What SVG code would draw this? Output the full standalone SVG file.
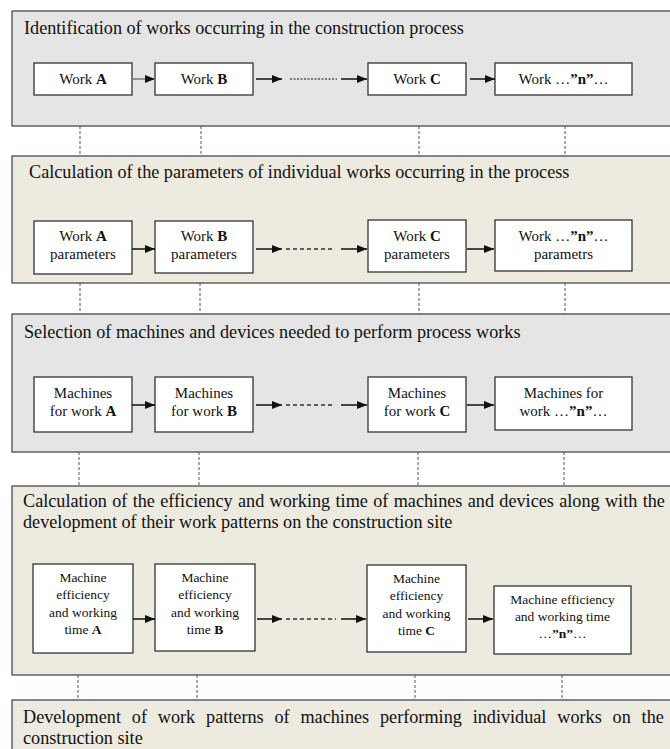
<svg xmlns="http://www.w3.org/2000/svg" width="670" height="749" viewBox="0 0 670 749">
<style>
text{font-family:"Liberation Serif","Times New Roman",serif;fill:#111}
.t{font-family:"Liberation Serif","Times New Roman",serif;font-size:18.2px}
.b{font-family:"Liberation Serif","Times New Roman",serif;font-size:15px;text-anchor:middle}
.s{font-family:"Liberation Serif","Times New Roman",serif;font-size:13.5px;text-anchor:middle}
.g{fill:#e5e5e5;stroke:#4a4a4a;stroke-width:1.3}
.e{fill:#edeae0;stroke:#4a4a4a;stroke-width:1.3}
.n{fill:#fff;stroke:#333;stroke-width:1.3}
.a{stroke:#111;stroke-width:1.5;fill:none;marker-end:url(#ah)}
.d{stroke:#333;stroke-width:1.3;fill:none;stroke-dasharray:4 3}
.dt{stroke:#555;stroke-width:1.3;fill:none;stroke-dasharray:2 1.5}
.v{stroke:#555;stroke-width:1;fill:none;stroke-dasharray:3 2}
tspan.k{font-weight:bold}
</style>
<defs>
<marker id="ah" viewBox="0 0 10 8" refX="10" refY="4" markerWidth="10" markerHeight="8" markerUnits="userSpaceOnUse" orient="auto">
<path d="M0,0 L10,4 L0,8 Z" fill="#111"/>
</marker>
</defs>

<g id="panel1">
<rect class="g" x="12" y="11" width="680" height="115"/>
<text class="t" x="24" y="34">Identification of works occurring in the construction process</text>
</g>
<g id="p1a"><rect class="n" x="34" y="63" width="98" height="32"/><text class="b" x="83" y="84">Work <tspan class="k">A</tspan></text></g>
<g id="p1b"><rect class="n" x="155" y="63" width="98" height="32"/><text class="b" x="204" y="84">Work <tspan class="k">B</tspan></text></g>
<g id="p1c"><rect class="n" x="368" y="63" width="98" height="32"/><text class="b" x="417" y="84">Work <tspan class="k">C</tspan></text></g>
<g id="p1n"><rect class="n" x="495" y="63" width="137" height="32"/><text class="b" x="563.5" y="84">Work …<tspan class="k">”n”</tspan>…</text></g>

<g id="panel2">
<rect class="e" x="12" y="156" width="680" height="127"/>
<text class="t" x="29" y="178">Calculation of the parameters of individual works occurring in the process</text>
</g>
<g id="p2a"><rect class="n" x="34" y="221" width="98" height="53"/><text class="b" x="83" y="241">Work <tspan class="k">A</tspan></text><text class="b" x="83" y="259">parameters</text></g>
<g id="p2b"><rect class="n" x="155" y="221" width="98" height="52"/><text class="b" x="204" y="241">Work <tspan class="k">B</tspan></text><text class="b" x="204" y="259">parameters</text></g>
<g id="p2c"><rect class="n" x="368" y="220" width="98" height="52"/><text class="b" x="417" y="241">Work <tspan class="k">C</tspan></text><text class="b" x="417" y="259">parameters</text></g>
<g id="p2n"><rect class="n" x="495" y="220" width="137" height="51"/><text class="b" x="563.5" y="241">Work …<tspan class="k">”n”</tspan>…</text><text class="b" x="563.5" y="259">parametrs</text></g>

<g id="panel3">
<rect class="g" x="12" y="314" width="680" height="138"/>
<text class="t" x="24" y="338">Selection of machines and devices needed to perform process works</text>
</g>
<g id="p3a"><rect class="n" x="34" y="377" width="98" height="55"/><text class="b" x="83" y="398">Machines</text><text class="b" x="83" y="416">for work <tspan class="k">A</tspan></text></g>
<g id="p3b"><rect class="n" x="155" y="377" width="98" height="55"/><text class="b" x="204" y="398">Machines</text><text class="b" x="204" y="416">for work <tspan class="k">B</tspan></text></g>
<g id="p3c"><rect class="n" x="368" y="377" width="98" height="55"/><text class="b" x="417" y="398">Machines</text><text class="b" x="417" y="416">for work <tspan class="k">C</tspan></text></g>
<g id="p3n"><rect class="n" x="495" y="377" width="137" height="53"/><text class="b" x="563.5" y="398">Machines for</text><text class="b" x="563.5" y="416">work …<tspan class="k">”n”</tspan>…</text></g>

<g id="panel4">
<rect class="e" x="12" y="486" width="680" height="189"/>
<text class="t" x="23" y="507" word-spacing="0.8">Calculation of the efficiency and working time of machines and devices along with the</text>
<text class="t" x="23" y="528">development of their work patterns on the construction site</text>
</g>
<g id="p4a"><rect class="n" x="33" y="564" width="100" height="89"/><text class="s" x="83" y="582">Machine</text><text class="s" x="83" y="599">efficiency</text><text class="s" x="83" y="617">and working</text><text class="s" x="83" y="634">time <tspan class="k">A</tspan></text></g>
<g id="p4b"><rect class="n" x="155" y="564" width="100" height="87"/><text class="s" x="205" y="582">Machine</text><text class="s" x="205" y="599">efficiency</text><text class="s" x="205" y="617">and working</text><text class="s" x="205" y="634">time <tspan class="k">B</tspan></text></g>
<g id="p4c"><rect class="n" x="367" y="565" width="99" height="87"/><text class="s" x="416.5" y="583">Machine</text><text class="s" x="416.5" y="600">efficiency</text><text class="s" x="416.5" y="618">and working</text><text class="s" x="416.5" y="635">time <tspan class="k">C</tspan></text></g>
<g id="p4n"><rect class="n" x="494" y="586" width="137" height="68"/><text class="s" x="562.5" y="604">Machine efficiency</text><text class="s" x="562.5" y="621">and working time</text><text class="s" x="562.5" y="638">…<tspan class="k">”n”</tspan>…</text></g>

<g id="panel5">
<rect class="e" x="12" y="700" width="680" height="70"/>
<text class="t" x="23" y="723" word-spacing="6.3">Development of work patterns of machines performing individual works on the</text>
<text class="t" x="23" y="744">construction site</text>
</g>

<g id="connectors">
<line class="a" x1="132" y1="79" x2="155" y2="79" style="stroke:#777"/>
<line class="a" x1="256" y1="79" x2="282" y2="79"/>
<line class="dt" x1="290" y1="79" x2="337" y2="79"/>
<line class="a" x1="341" y1="79" x2="367" y2="79"/>
<line class="a" x1="470" y1="79" x2="495" y2="79"/>

<line class="a" x1="132" y1="249" x2="155" y2="249"/>
<line class="a" x1="256" y1="249" x2="282" y2="249"/>
<line class="d" x1="286" y1="249" x2="335" y2="249"/>
<line class="a" x1="341" y1="249" x2="367" y2="249"/>
<line class="a" x1="467" y1="249" x2="494" y2="249"/>

<line class="a" x1="132" y1="405" x2="155" y2="405"/>
<line class="a" x1="256" y1="405" x2="282" y2="405"/>
<line class="d" x1="286" y1="405" x2="335" y2="405"/>
<line class="a" x1="341" y1="405" x2="367" y2="405"/>
<line class="a" x1="467" y1="405" x2="494" y2="405"/>

<line class="a" x1="133" y1="619" x2="155" y2="619"/>
<line class="a" x1="257" y1="619" x2="282" y2="619"/>
<line class="d" x1="286" y1="619" x2="336" y2="619"/>
<line class="a" x1="341" y1="619" x2="366" y2="619"/>
<line class="a" x1="468" y1="619" x2="493" y2="619"/>

<line class="v" x1="80" y1="126" x2="80" y2="156"/>
<line class="v" x1="201" y1="126" x2="201" y2="156"/>
<line class="v" x1="419" y1="126" x2="419" y2="156"/>
<line class="v" x1="565" y1="126" x2="565" y2="156"/>

<line class="v" x1="80" y1="283" x2="80" y2="314"/>
<line class="v" x1="200" y1="283" x2="200" y2="314"/>
<line class="v" x1="419" y1="283" x2="419" y2="314"/>
<line class="v" x1="565" y1="283" x2="565" y2="314"/>

<line class="v" x1="79" y1="452" x2="79" y2="486"/>
<line class="v" x1="199" y1="452" x2="199" y2="486"/>
<line class="v" x1="418" y1="452" x2="418" y2="486"/>
<line class="v" x1="564" y1="452" x2="564" y2="486"/>

<line class="v" x1="78" y1="675" x2="78" y2="700"/>
<line class="v" x1="197" y1="675" x2="197" y2="700"/>
<line class="v" x1="415" y1="675" x2="415" y2="700"/>
<line class="v" x1="562" y1="675" x2="562" y2="700"/>
</g>
</svg>
